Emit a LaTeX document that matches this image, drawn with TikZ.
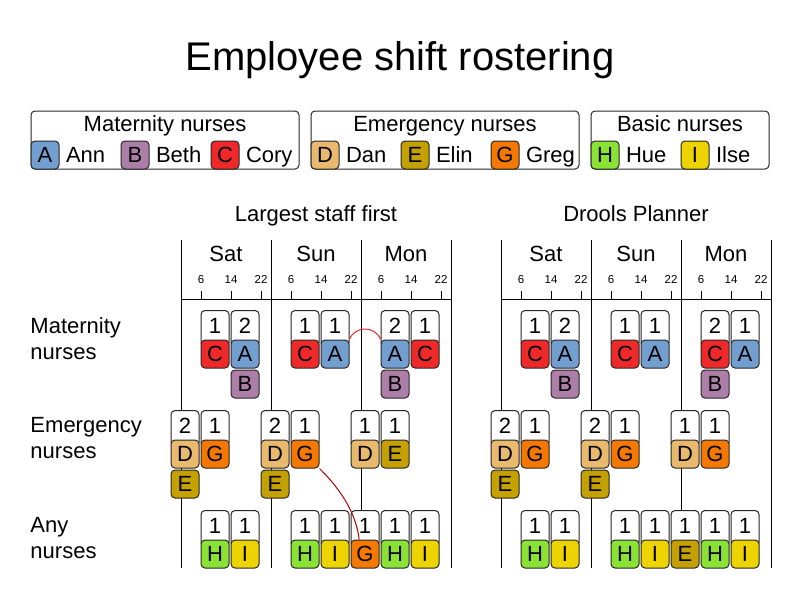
\documentclass[tikz,border=0pt]{standalone}
\usepackage{fontspec}
\setmainfont{Liberation Sans}
\usetikzlibrary{positioning}

\definecolor{annblue}{HTML}{729FCF}
\definecolor{bethplum}{HTML}{AD7FA8}
\definecolor{coryred}{HTML}{EF2929}
\definecolor{danbrown}{HTML}{E9B96E}
\definecolor{elinyellow}{HTML}{C4A000}
\definecolor{gregorange}{HTML}{F57900}
\definecolor{huegreen}{HTML}{8AE234}
\definecolor{ilseyellow}{HTML}{EDD400}

\begin{document}
\begin{tikzpicture}[x=1pt, y=-1pt, line width=1pt]

% Page frame, in pixels from the top left corner
\useasboundingbox (0,0) rectangle (800,600);

% Define styles for texts, panels, shifts and nurses
\tikzstyle{big} = [font=\fontsize{22}{26}\selectfont]
\tikzstyle{caption} = [big, inner sep=0pt, anchor=base]
\tikzstyle{who} = [big, inner sep=0pt, text height=15.75pt, text depth=0pt]
\tikzstyle{rowlabel} = [big, inner sep=0pt, anchor=west, align=left]
\tikzstyle{hour} = [font=\fontsize{11.5}{13}\selectfont, inner sep=0pt, anchor=base]
\tikzstyle{panel} = [draw=black!85, rounded corners=4pt, minimum height=58pt]
\tikzstyle{need} = [big, draw=black!85, fill=white, rounded corners=4pt, minimum width=28pt,
                    text height=16pt, text depth=6pt, inner xsep=0pt, inner ysep=7pt, anchor=north]
\tikzstyle{chip} = [big, draw=black!85, rounded corners=4pt, minimum width=28pt, minimum height=28pt, inner sep=0pt]
\tikzstyle{ann} = [chip, fill=annblue]
\tikzstyle{beth} = [chip, fill=bethplum]
\tikzstyle{cory} = [chip, fill=coryred]
\tikzstyle{dan} = [chip, fill=danbrown]
\tikzstyle{elin} = [chip, fill=elinyellow]
\tikzstyle{greg} = [chip, fill=gregorange]
\tikzstyle{hue} = [chip, fill=huegreen]
\tikzstyle{ilse} = [chip, fill=ilseyellow]

% Title
\node[font=\fontsize{40}{48}\selectfont, inner sep=0pt, anchor=base] (title) at (400,70) {Employee shift rostering};

% Legend
\node[panel, minimum width=268pt] (legMat) at (165,140) {};
\node[panel, minimum width=268pt] (legEme) at (445,140) {};
\node[panel, minimum width=178pt] (legBas) at (680,140) {};
\node[caption] (legMatTitle) at (165,131.9) {Maternity nurses};
\node[caption] (legEmeTitle) at (445,131.9) {Emergency nurses};
\node[caption] (legBasTitle) at (680,131.9) {Basic nurses};
\node[ann] (legA) at (45,155) {A};
\node[who, right=6pt of legA] (legAnn) {Ann};
\node[beth] (legB) at (135,155) {B};
\node[who, right=6pt of legB] (legBeth) {Beth};
\node[cory] (legC) at (225,155) {C};
\node[who, right=6pt of legC] (legCory) {Cory};
\node[dan] (legD) at (325,155) {D};
\node[who, right=6pt of legD] (legDan) {Dan};
\node[elin] (legE) at (415,155) {E};
\node[who, right=6pt of legE] (legElin) {Elin};
\node[greg] (legG) at (505,155) {G};
\node[who, right=6pt of legG] (legGreg) {Greg};
\node[hue] (legH) at (605,155) {H};
\node[who, right=6pt of legH] (legHue) {Hue};
\node[ilse] (legI) at (695,155) {I};
\node[who, right=6pt of legI] (legIlse) {Ilse};

% Row labels
\node[rowlabel] (rowMat) at (30,338.5) {Maternity\\nurses};
\node[rowlabel] (rowEme) at (30,438.5) {Emergency\\nurses};
\node[rowlabel] (rowAny) at (30,538.5) {Any\\nurses};

% Both schedules share the same day and hour axes
\node[caption] (lHead) at (316,221.9) {Largest staff first};
\node[caption] (rHead) at (636,221.9) {Drools Planner};
\foreach \g/\side in {0/l, 320/r} {
    \draw (181+\g,299) -- (451+\g,299);
    \draw (451+\g,240) -- (451+\g,568);
    \foreach \d/\day in {0/Sat, 1/Sun, 2/Mon} {
        \draw (181+\g+90*\d,240) -- (181+\g+90*\d,568);
        \node[caption] (\side\day) at (226+\g+90*\d,261.9) {\day};
        \foreach \t/\h in {20/6, 50/14, 80/22} {
            \draw (181+\g+90*\d+\t,291) -- (181+\g+90*\d+\t,299);
            \node[hour] (\side\day\h) at (181+\g+90*\d+\t,283.1) {\h};
        }
    }
}

% Largest staff first: maternity
\node[need] (lM1) at (215,310) {1};
\node[cory] (lM1a) at (215,354) {C};
\node[need] (lM2) at (245,310) {2};
\node[ann] (lM2a) at (245,354) {A};
\node[beth] (lM2b) at (245,384) {B};
\node[need] (lM3) at (305,310) {1};
\node[cory] (lM3a) at (305,354) {C};
\node[need] (lM4) at (335,310) {1};
\node[ann] (lM4a) at (335,354) {A};
\node[need] (lM5) at (395,310) {2};
\node[ann] (lM5a) at (395,354) {A};
\node[beth] (lM5b) at (395,384) {B};
\node[need] (lM6) at (425,310) {1};
\node[cory] (lM6a) at (425,354) {C};

% Largest staff first: emergency
\node[need] (lE1) at (185,410) {2};
\node[dan] (lE1a) at (185,454) {D};
\node[elin] (lE1b) at (185,484) {E};
\node[need] (lE2) at (215,410) {1};
\node[greg] (lE2a) at (215,454) {G};
\node[need] (lE3) at (275,410) {2};
\node[dan] (lE3a) at (275,454) {D};
\node[elin] (lE3b) at (275,484) {E};
\node[need] (lE4) at (305,410) {1};
\node[greg] (lE4a) at (305,454) {G};
\node[need] (lE5) at (365,410) {1};
\node[dan] (lE5a) at (365,454) {D};
\node[need] (lE6) at (395,410) {1};
\node[elin] (lE6a) at (395,454) {E};

% Largest staff first: any
\node[need] (lA1) at (215,510) {1};
\node[hue] (lA1a) at (215,554) {H};
\node[need] (lA2) at (245,510) {1};
\node[ilse] (lA2a) at (245,554) {I};
\node[need] (lA3) at (305,510) {1};
\node[hue] (lA3a) at (305,554) {H};
\node[need] (lA4) at (335,510) {1};
\node[ilse] (lA4a) at (335,554) {I};
\node[need] (lA5) at (365,510) {1};
\node[greg] (lA5a) at (365,554) {G};
\node[need] (lA6) at (395,510) {1};
\node[hue] (lA6a) at (395,554) {H};
\node[need] (lA7) at (425,510) {1};
\node[ilse] (lA7a) at (425,554) {I};

% Drools Planner: maternity
\node[need] (rM1) at (535,310) {1};
\node[cory] (rM1a) at (535,354) {C};
\node[need] (rM2) at (565,310) {2};
\node[ann] (rM2a) at (565,354) {A};
\node[beth] (rM2b) at (565,384) {B};
\node[need] (rM3) at (625,310) {1};
\node[cory] (rM3a) at (625,354) {C};
\node[need] (rM4) at (655,310) {1};
\node[ann] (rM4a) at (655,354) {A};
\node[need] (rM5) at (715,310) {2};
\node[cory] (rM5a) at (715,354) {C};
\node[beth] (rM5b) at (715,384) {B};
\node[need] (rM6) at (745,310) {1};
\node[ann] (rM6a) at (745,354) {A};

% Drools Planner: emergency
\node[need] (rE1) at (505,410) {2};
\node[dan] (rE1a) at (505,454) {D};
\node[elin] (rE1b) at (505,484) {E};
\node[need] (rE2) at (535,410) {1};
\node[greg] (rE2a) at (535,454) {G};
\node[need] (rE3) at (595,410) {2};
\node[dan] (rE3a) at (595,454) {D};
\node[elin] (rE3b) at (595,484) {E};
\node[need] (rE4) at (625,410) {1};
\node[greg] (rE4a) at (625,454) {G};
\node[need] (rE5) at (685,410) {1};
\node[dan] (rE5a) at (685,454) {D};
\node[need] (rE6) at (715,410) {1};
\node[greg] (rE6a) at (715,454) {G};

% Drools Planner: any
\node[need] (rA1) at (535,510) {1};
\node[hue] (rA1a) at (535,554) {H};
\node[need] (rA2) at (565,510) {1};
\node[ilse] (rA2a) at (565,554) {I};
\node[need] (rA3) at (625,510) {1};
\node[hue] (rA3a) at (625,554) {H};
\node[need] (rA4) at (655,510) {1};
\node[ilse] (rA4a) at (655,554) {I};
\node[need] (rA5) at (685,510) {1};
\node[elin] (rA5a) at (685,554) {E};
\node[need] (rA6) at (715,510) {1};
\node[hue] (rA6a) at (715,554) {H};
\node[need] (rA7) at (745,510) {1};
\node[ilse] (rA7a) at (745,554) {I};

% Moves that the planner makes
\draw[coryred] (lM4a.north east) .. controls +(5,-14) and +(-5,-14) .. (lM5a.north west);
\draw[red!70!black] (lE4a.south east) .. controls +(10,10) and +(-4,-35) .. (lA5a.112);

\end{tikzpicture}
\end{document}
